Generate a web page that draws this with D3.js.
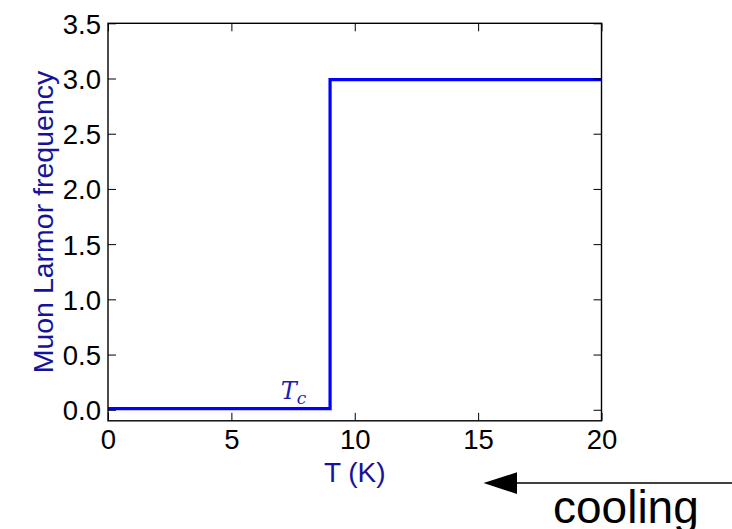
<!DOCTYPE html>
<html>
<head>
<meta charset="utf-8">
<script src="https://cdn.jsdelivr.net/npm/d3@7"></script>
<style>
  html, body { margin: 0; padding: 0; background: #fff; }
  svg { display: block; }
</style>
</head>
<body>
<svg id="chart" width="732" height="529"></svg>
<script>
// ---- data ----
const temperature = [0, 9, 9, 20];
const frequency = [0.01, 0.01, 2.99, 2.99];
const xTicks = [0, 5, 10, 15, 20];
const yTicks = [0.0, 0.5, 1.0, 1.5, 2.0, 2.5, 3.0, 3.5];
const xLabel = "T (K)";
const yLabel = "Muon Larmor frequency";
const tcLabel = { x: 7, y: 0.1 };
const arrowText = "cooling";

// ---- layout ----
const svg = d3.select("#chart");
const L = 108, R = 601.5, T = 23.3, B = 420.8;
const x = d3.scaleLinear().domain([0, 20]).range([L, R]);
const y = d3.scaleLinear().domain([-0.1, 3.5]).range([B, T]);
const labelBlue = "#14149a";
const font = "'Liberation Sans', Arial, sans-serif";

// line
const pts = temperature.map((t, i) => [t, frequency[i]]);
svg.append("path")
  .datum(pts)
  .attr("d", d3.line().x(d => x(d[0])).y(d => y(d[1])))
  .attr("fill", "none")
  .attr("stroke", "#0000ff")
  .attr("stroke-width", 3.2)
  .attr("stroke-linejoin", "miter");

// axes (inner ticks on all sides)
const tickLen = 8;
const gB = svg.append("g").attr("transform", `translate(0,${B})`)
  .call(d3.axisBottom(x).tickValues(xTicks).tickSizeInner(-tickLen).tickSizeOuter(0).tickPadding(9).tickFormat(d3.format("d")));
const gT = svg.append("g").attr("transform", `translate(0,${T})`)
  .call(d3.axisTop(x).tickValues(xTicks).tickSizeInner(-tickLen).tickSizeOuter(0).tickFormat(""));
const gL = svg.append("g").attr("transform", `translate(${L},0)`)
  .call(d3.axisLeft(y).tickValues(yTicks).tickSizeInner(-tickLen).tickSizeOuter(0).tickPadding(7).tickFormat(d3.format(".1f")));
const gR = svg.append("g").attr("transform", `translate(${R},0)`)
  .call(d3.axisRight(y).tickValues(yTicks).tickSizeInner(-tickLen).tickSizeOuter(0).tickFormat(""));

[gB, gT, gL, gR].forEach(g => {
  g.select(".domain").remove();
  g.selectAll(".tick line").attr("stroke", "#000").attr("stroke-width", 1);
  g.selectAll(".tick text").attr("fill", "#000").style("font-family", font).style("font-size", "27.5px");
});
gB.selectAll(".tick text").attr("dy", "0.71em");
gL.selectAll(".tick text").attr("dy", "0.36em");

// frame
svg.append("rect")
  .attr("x", L).attr("y", T).attr("width", R - L).attr("height", B - T)
  .attr("fill", "none").attr("stroke", "#000").attr("stroke-width", 1.4);

// axis labels
svg.append("text")
  .attr("x", (L + R) / 2).attr("y", 482)
  .attr("text-anchor", "middle")
  .attr("fill", labelBlue)
  .style("font-family", font).style("font-size", "28px")
  .text(xLabel);

svg.append("text")
  .attr("transform", `translate(53,${(T + B) / 2}) rotate(-90)`)
  .attr("text-anchor", "middle")
  .attr("fill", labelBlue)
  .style("font-family", font).style("font-size", "28.5px")
  .text(yLabel);

// Tc label
const tc = svg.append("text")
  .attr("x", x(tcLabel.x)).attr("y", y(tcLabel.y))
  .attr("fill", "#1c1cb0")
  .style("font-family", "'DejaVu Serif', 'Liberation Serif', serif")
  .style("font-style", "italic")
  .style("font-size", "24px");
tc.append("tspan").text("T");
tc.append("tspan").attr("dy", 5).style("font-size", "17px").text("c");

// cooling arrow
svg.append("line")
  .attr("x1", 732).attr("y1", 483).attr("x2", 516).attr("y2", 483)
  .attr("stroke", "#000").attr("stroke-width", 1.5);
svg.append("path")
  .attr("d", "M483.5,483 L517,472.3 L517,494 Z")
  .attr("fill", "#000");
svg.append("text")
  .attr("x", 553).attr("y", 522.5)
  .attr("fill", "#000")
  .style("font-family", font).style("font-size", "46px")
  .text(arrowText);
</script>
</body>
</html>
